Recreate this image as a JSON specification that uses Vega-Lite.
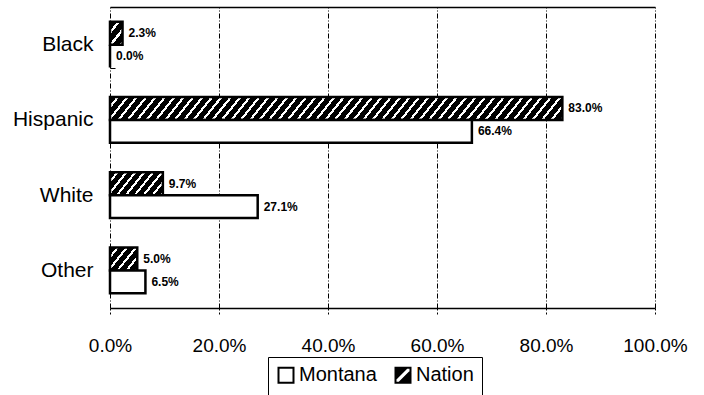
{
  "$schema": "https://vega.github.io/schema/vega-lite/v6.json",
  "width": 545,
  "height": 301,
  "autosize": {"type": "none"},
  "padding": {"left": 110, "top": 7, "right": 49, "bottom": 87},
  "background": "white",
  "config": {"view": {"stroke": null}, "font": "Liberation Sans"},
  "data": {
    "values": [
      {"category": "Black", "series": "Nation", "value": 0.023},
      {"category": "Black", "series": "Montana", "value": 0.0},
      {"category": "Hispanic", "series": "Nation", "value": 0.83},
      {"category": "Hispanic", "series": "Montana", "value": 0.664},
      {"category": "White", "series": "Nation", "value": 0.097},
      {"category": "White", "series": "Montana", "value": 0.271},
      {"category": "Other", "series": "Nation", "value": 0.05},
      {"category": "Other", "series": "Montana", "value": 0.065}
    ]
  },
  "encoding": {
    "y": {
      "field": "category",
      "type": "nominal",
      "sort": ["Black", "Hispanic", "White", "Other"],
      "scale": {"paddingInner": 0.39, "paddingOuter": 0.195},
      "axis": {
        "title": null,
        "domain": false,
        "tickBand": "extent",
        "tickSize": -5,
        "tickColor": "#000",
        "tickWidth": 1,
        "labelFontSize": 21,
        "labelFont": "Liberation Sans",
        "labelColor": "#000",
        "labelPadding": 22
      }
    },
    "yOffset": {"field": "series", "type": "nominal", "sort": ["Nation", "Montana"]}
  },
  "layer": [
    {
      "mark": {"type": "bar", "stroke": "#000", "strokeWidth": 2.5, "strokeJoin": "miter"},
      "encoding": {
        "x": {
          "field": "value",
          "type": "quantitative",
          "scale": {"domain": [0, 1], "nice": false},
          "axis": {
            "title": null,
            "values": [0, 0.2, 0.4, 0.6, 0.8, 1],
            "format": ".1%",
            "labelFlush": false,
            "labelOverlap": false,
            "grid": true,
            "gridColor": "#000",
            "gridWidth": 1,
            "gridDash": [5, 2, 1, 2],
            "gridOpacity": 1,
            "domainColor": "#000",
            "domainWidth": 1.5,
            "tickColor": "#000",
            "tickSize": 6,
            "tickDash": [2, 2],
            "labelFontSize": 19,
            "labelFont": "Liberation Sans",
            "labelColor": "#000",
            "labelPadding": 22
          }
        },
        "fill": {
          "condition": [
            {"test": "datum.series === 'Nation' && datum.category === 'Black'",
             "value": {"gradient": "linear", "x1": 0, "y1": 0, "x2": 0.7823, "y2": 1.1483, "stops": [
                  {"offset": 0, "color": "#000"}, {"offset": 0.2333, "color": "#000"}, {"offset": 0.2333, "color": "#fff"}, {"offset": 0.3333, "color": "#fff"},
                  {"offset": 0.3333, "color": "#000"}, {"offset": 0.5667, "color": "#000"}, {"offset": 0.5667, "color": "#fff"}, {"offset": 0.6667, "color": "#fff"},
                  {"offset": 0.6667, "color": "#000"}, {"offset": 0.9, "color": "#000"}, {"offset": 0.9, "color": "#fff"}, {"offset": 1, "color": "#fff"}
             ]}},
            {"test": "datum.series === 'Nation' && datum.category === 'Hispanic'",
             "value": {"gradient": "linear", "x1": 0, "y1": 0, "x2": 1.039, "y2": 0.0423, "stops": [
                  {"offset":0,"color":"#000"},{"offset":0.014,"color":"#000"},{"offset":0.014,"color":"#fff"},{"offset":0.02,"color":"#fff"},
                  {"offset":0.02,"color":"#000"},{"offset":0.034,"color":"#000"},{"offset":0.034,"color":"#fff"},{"offset":0.04,"color":"#fff"},
                  {"offset":0.04,"color":"#000"},{"offset":0.054,"color":"#000"},{"offset":0.054,"color":"#fff"},{"offset":0.06,"color":"#fff"},
                  {"offset":0.06,"color":"#000"},{"offset":0.074,"color":"#000"},{"offset":0.074,"color":"#fff"},{"offset":0.08,"color":"#fff"},
                  {"offset":0.08,"color":"#000"},{"offset":0.094,"color":"#000"},{"offset":0.094,"color":"#fff"},{"offset":0.1,"color":"#fff"},
                  {"offset":0.1,"color":"#000"},{"offset":0.114,"color":"#000"},{"offset":0.114,"color":"#fff"},{"offset":0.12,"color":"#fff"},
                  {"offset":0.12,"color":"#000"},{"offset":0.134,"color":"#000"},{"offset":0.134,"color":"#fff"},{"offset":0.14,"color":"#fff"},
                  {"offset":0.14,"color":"#000"},{"offset":0.154,"color":"#000"},{"offset":0.154,"color":"#fff"},{"offset":0.16,"color":"#fff"},
                  {"offset":0.16,"color":"#000"},{"offset":0.174,"color":"#000"},{"offset":0.174,"color":"#fff"},{"offset":0.18,"color":"#fff"},
                  {"offset":0.18,"color":"#000"},{"offset":0.194,"color":"#000"},{"offset":0.194,"color":"#fff"},{"offset":0.2,"color":"#fff"},
                  {"offset":0.2,"color":"#000"},{"offset":0.214,"color":"#000"},{"offset":0.214,"color":"#fff"},{"offset":0.22,"color":"#fff"},
                  {"offset":0.22,"color":"#000"},{"offset":0.234,"color":"#000"},{"offset":0.234,"color":"#fff"},{"offset":0.24,"color":"#fff"},
                  {"offset":0.24,"color":"#000"},{"offset":0.254,"color":"#000"},{"offset":0.254,"color":"#fff"},{"offset":0.26,"color":"#fff"},
                  {"offset":0.26,"color":"#000"},{"offset":0.274,"color":"#000"},{"offset":0.274,"color":"#fff"},{"offset":0.28,"color":"#fff"},
                  {"offset":0.28,"color":"#000"},{"offset":0.294,"color":"#000"},{"offset":0.294,"color":"#fff"},{"offset":0.3,"color":"#fff"},
                  {"offset":0.3,"color":"#000"},{"offset":0.314,"color":"#000"},{"offset":0.314,"color":"#fff"},{"offset":0.32,"color":"#fff"},
                  {"offset":0.32,"color":"#000"},{"offset":0.334,"color":"#000"},{"offset":0.334,"color":"#fff"},{"offset":0.34,"color":"#fff"},
                  {"offset":0.34,"color":"#000"},{"offset":0.354,"color":"#000"},{"offset":0.354,"color":"#fff"},{"offset":0.36,"color":"#fff"},
                  {"offset":0.36,"color":"#000"},{"offset":0.374,"color":"#000"},{"offset":0.374,"color":"#fff"},{"offset":0.38,"color":"#fff"},
                  {"offset":0.38,"color":"#000"},{"offset":0.394,"color":"#000"},{"offset":0.394,"color":"#fff"},{"offset":0.4,"color":"#fff"},
                  {"offset":0.4,"color":"#000"},{"offset":0.414,"color":"#000"},{"offset":0.414,"color":"#fff"},{"offset":0.42,"color":"#fff"},
                  {"offset":0.42,"color":"#000"},{"offset":0.434,"color":"#000"},{"offset":0.434,"color":"#fff"},{"offset":0.44,"color":"#fff"},
                  {"offset":0.44,"color":"#000"},{"offset":0.454,"color":"#000"},{"offset":0.454,"color":"#fff"},{"offset":0.46,"color":"#fff"},
                  {"offset":0.46,"color":"#000"},{"offset":0.474,"color":"#000"},{"offset":0.474,"color":"#fff"},{"offset":0.48,"color":"#fff"},
                  {"offset":0.48,"color":"#000"},{"offset":0.494,"color":"#000"},{"offset":0.494,"color":"#fff"},{"offset":0.5,"color":"#fff"},
                  {"offset":0.5,"color":"#000"},{"offset":0.514,"color":"#000"},{"offset":0.514,"color":"#fff"},{"offset":0.52,"color":"#fff"},
                  {"offset":0.52,"color":"#000"},{"offset":0.534,"color":"#000"},{"offset":0.534,"color":"#fff"},{"offset":0.54,"color":"#fff"},
                  {"offset":0.54,"color":"#000"},{"offset":0.554,"color":"#000"},{"offset":0.554,"color":"#fff"},{"offset":0.56,"color":"#fff"},
                  {"offset":0.56,"color":"#000"},{"offset":0.574,"color":"#000"},{"offset":0.574,"color":"#fff"},{"offset":0.58,"color":"#fff"},
                  {"offset":0.58,"color":"#000"},{"offset":0.594,"color":"#000"},{"offset":0.594,"color":"#fff"},{"offset":0.6,"color":"#fff"},
                  {"offset":0.6,"color":"#000"},{"offset":0.614,"color":"#000"},{"offset":0.614,"color":"#fff"},{"offset":0.62,"color":"#fff"},
                  {"offset":0.62,"color":"#000"},{"offset":0.634,"color":"#000"},{"offset":0.634,"color":"#fff"},{"offset":0.64,"color":"#fff"},
                  {"offset":0.64,"color":"#000"},{"offset":0.654,"color":"#000"},{"offset":0.654,"color":"#fff"},{"offset":0.66,"color":"#fff"},
                  {"offset":0.66,"color":"#000"},{"offset":0.674,"color":"#000"},{"offset":0.674,"color":"#fff"},{"offset":0.68,"color":"#fff"},
                  {"offset":0.68,"color":"#000"},{"offset":0.694,"color":"#000"},{"offset":0.694,"color":"#fff"},{"offset":0.7,"color":"#fff"},
                  {"offset":0.7,"color":"#000"},{"offset":0.714,"color":"#000"},{"offset":0.714,"color":"#fff"},{"offset":0.72,"color":"#fff"},
                  {"offset":0.72,"color":"#000"},{"offset":0.734,"color":"#000"},{"offset":0.734,"color":"#fff"},{"offset":0.74,"color":"#fff"},
                  {"offset":0.74,"color":"#000"},{"offset":0.754,"color":"#000"},{"offset":0.754,"color":"#fff"},{"offset":0.76,"color":"#fff"},
                  {"offset":0.76,"color":"#000"},{"offset":0.774,"color":"#000"},{"offset":0.774,"color":"#fff"},{"offset":0.78,"color":"#fff"},
                  {"offset":0.78,"color":"#000"},{"offset":0.794,"color":"#000"},{"offset":0.794,"color":"#fff"},{"offset":0.8,"color":"#fff"},
                  {"offset":0.8,"color":"#000"},{"offset":0.814,"color":"#000"},{"offset":0.814,"color":"#fff"},{"offset":0.82,"color":"#fff"},
                  {"offset":0.82,"color":"#000"},{"offset":0.834,"color":"#000"},{"offset":0.834,"color":"#fff"},{"offset":0.84,"color":"#fff"},
                  {"offset":0.84,"color":"#000"},{"offset":0.854,"color":"#000"},{"offset":0.854,"color":"#fff"},{"offset":0.86,"color":"#fff"},
                  {"offset":0.86,"color":"#000"},{"offset":0.874,"color":"#000"},{"offset":0.874,"color":"#fff"},{"offset":0.88,"color":"#fff"},
                  {"offset":0.88,"color":"#000"},{"offset":0.894,"color":"#000"},{"offset":0.894,"color":"#fff"},{"offset":0.9,"color":"#fff"},
                  {"offset":0.9,"color":"#000"},{"offset":0.914,"color":"#000"},{"offset":0.914,"color":"#fff"},{"offset":0.92,"color":"#fff"},
                  {"offset":0.92,"color":"#000"},{"offset":0.934,"color":"#000"},{"offset":0.934,"color":"#fff"},{"offset":0.94,"color":"#fff"},
                  {"offset":0.94,"color":"#000"},{"offset":0.954,"color":"#000"},{"offset":0.954,"color":"#fff"},{"offset":0.96,"color":"#fff"},
                  {"offset":0.96,"color":"#000"},{"offset":0.974,"color":"#000"},{"offset":0.974,"color":"#fff"},{"offset":0.98,"color":"#fff"},
                  {"offset":0.98,"color":"#000"},{"offset":0.994,"color":"#000"},{"offset":0.994,"color":"#fff"},{"offset":1,"color":"#fff"}
             ]}},
            {"test": "datum.series === 'Nation' && datum.category === 'White'",
             "value": {"gradient": "linear", "x1": 0, "y1": 0, "x2": 1.2024, "y2": 0.4185, "stops": [
                  {"offset":0,"color":"#000"},{"offset":0.0875,"color":"#000"},{"offset":0.0875,"color":"#fff"},{"offset":0.125,"color":"#fff"},
                  {"offset":0.125,"color":"#000"},{"offset":0.2125,"color":"#000"},{"offset":0.2125,"color":"#fff"},{"offset":0.25,"color":"#fff"},
                  {"offset":0.25,"color":"#000"},{"offset":0.3375,"color":"#000"},{"offset":0.3375,"color":"#fff"},{"offset":0.375,"color":"#fff"},
                  {"offset":0.375,"color":"#000"},{"offset":0.4625,"color":"#000"},{"offset":0.4625,"color":"#fff"},{"offset":0.5,"color":"#fff"},
                  {"offset":0.5,"color":"#000"},{"offset":0.5875,"color":"#000"},{"offset":0.5875,"color":"#fff"},{"offset":0.625,"color":"#fff"},
                  {"offset":0.625,"color":"#000"},{"offset":0.7125,"color":"#000"},{"offset":0.7125,"color":"#fff"},{"offset":0.75,"color":"#fff"},
                  {"offset":0.75,"color":"#000"},{"offset":0.8375,"color":"#000"},{"offset":0.8375,"color":"#fff"},{"offset":0.875,"color":"#fff"},
                  {"offset":0.875,"color":"#000"},{"offset":0.9625,"color":"#000"},{"offset":0.9625,"color":"#fff"},{"offset":1,"color":"#fff"}
             ]}},
            {"test": "datum.series === 'Nation' && datum.category === 'Other'",
             "value": {"gradient": "linear", "x1": 0, "y1": 0, "x2": 1.1505, "y2": 0.7769, "stops": [
                  {"offset":0,"color":"#000"},{"offset":0.14,"color":"#000"},{"offset":0.14,"color":"#fff"},{"offset":0.2,"color":"#fff"},
                  {"offset":0.2,"color":"#000"},{"offset":0.34,"color":"#000"},{"offset":0.34,"color":"#fff"},{"offset":0.4,"color":"#fff"},
                  {"offset":0.4,"color":"#000"},{"offset":0.54,"color":"#000"},{"offset":0.54,"color":"#fff"},{"offset":0.6,"color":"#fff"},
                  {"offset":0.6,"color":"#000"},{"offset":0.74,"color":"#000"},{"offset":0.74,"color":"#fff"},{"offset":0.8,"color":"#fff"},
                  {"offset":0.8,"color":"#000"},{"offset":0.94,"color":"#000"},{"offset":0.94,"color":"#fff"},{"offset":1,"color":"#fff"}
             ]}}
          ],
          "value": "#ffffff"
        }
      }
    },
    {
      "mark": {"type": "text", "align": "left", "baseline": "middle", "dx": 6, "fontSize": 12, "fontWeight": "bold", "font": "Liberation Sans", "color": "#000"},
      "encoding": {
        "x": {
          "field": "value",
          "type": "quantitative",
          "scale": {"domain": [0, 1], "nice": false},
          "axis": {"orient": "top", "title": null, "labels": false, "ticks": false, "grid": false, "domain": true, "domainColor": "#000", "domainWidth": 1.5}
        },
        "text": {"field": "value", "type": "quantitative", "format": ".1%"}
      }
    },
    {
      "transform": [{"filter": "datum.value < 0"}],
      "mark": {"type": "point", "filled": true, "strokeWidth": 2, "size": 225, "opacity": 1},
      "encoding": {
        "x": {"field": "value", "type": "quantitative", "axis": null},
        "fill": {
          "field": "series",
          "type": "nominal",
          "scale": {"domain": ["Montana", "Nation"], "range": ["#ffffff", "#000000"]},
          "legend": {
            "title": null,
            "orient": "none",
            "legendX": 158,
            "legendY": 350,
            "direction": "horizontal",
            "symbolSize": 225,
            "symbolStrokeWidth": 2,
            "labelFontSize": 20,
            "labelFont": "Liberation Sans",
            "labelColor": "#000",
            "labelOffset": 3,
            "columnPadding": 14,
            "padding": 8,
            "strokeColor": "#000",
            "fillColor": "#fff"
          }
        },
        "stroke": {
          "field": "series",
          "type": "nominal",
          "scale": {"domain": ["Montana", "Nation"], "range": ["#000000", "#000001"]},
          "legend": {
            "title": null,
            "orient": "none",
            "legendX": 158,
            "legendY": 350,
            "direction": "horizontal",
            "symbolSize": 225,
            "symbolStrokeWidth": 2,
            "labelFontSize": 20,
            "labelFont": "Liberation Sans",
            "labelColor": "#000",
            "labelOffset": 3,
            "columnPadding": 14,
            "padding": 8,
            "strokeColor": "#000",
            "fillColor": "#fff"
          }
        },
        "shape": {
          "field": "series",
          "type": "nominal",
          "scale": {"domain": ["Montana", "Nation"], "range": ["square", "M-1,-1L1,-1L1,1L-1,1Z M-1,0.5L-1,1L-0.5,1L1,-0.5L1,-1L0.5,-1Z"]},
          "legend": {
            "title": null,
            "orient": "none",
            "legendX": 158,
            "legendY": 350,
            "direction": "horizontal",
            "symbolSize": 225,
            "symbolStrokeWidth": 2,
            "labelFontSize": 20,
            "labelFont": "Liberation Sans",
            "labelColor": "#000",
            "labelOffset": 3,
            "columnPadding": 14,
            "padding": 8,
            "strokeColor": "#000",
            "fillColor": "#fff"
          }
        }
      }
    }
  ],
  "resolve": {"axis": {"x": "independent"}}
}
